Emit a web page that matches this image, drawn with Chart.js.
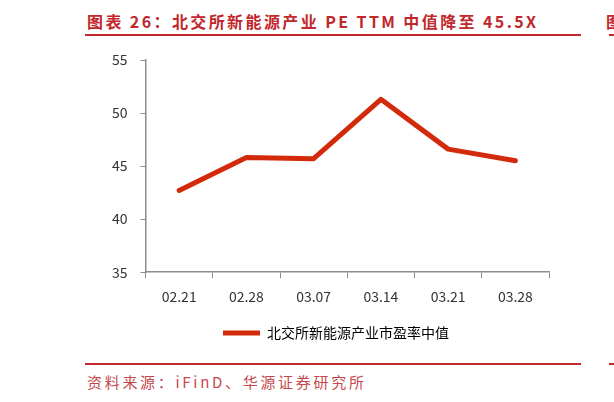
<!DOCTYPE html>
<html>
<head>
<meta charset="utf-8">
<script src="https://cdn.jsdelivr.net/npm/chart.js@4/dist/chart.umd.min.js"></script>
<style>
  html, body { margin: 0; padding: 0; background: #fff; }
  body { width: 614px; height: 402px; position: relative; overflow: hidden; }
  #chart { position: absolute; left: 0; top: 0; }
  .title {
    position: absolute; left: 87px; top: 9px;
    font-family: "Noto Sans CJK SC", sans-serif; font-weight: 700;
    font-size: 16px; letter-spacing: 2.4px; color: #c0282d; white-space: nowrap;
  }
  .rule { position: absolute; height: 2px; background: #c0282d; }
  .source {
    position: absolute; left: 87px; top: 371px;
    font-family: "Noto Sans CJK SC", sans-serif; font-size: 15px;
    letter-spacing: 2.7px; color: #c5484c; white-space: nowrap;
  }
  .edge { position: absolute; left: 606px; width: 8px; overflow: hidden; color: #c0282d;
    font-family: "Noto Sans CJK SC", sans-serif; font-weight: 700; font-size: 16px; }
</style>
</head>
<body>
<div class="title">图表 26：北交所新能源产业 PE TTM 中值降至 45.5X</div>
<div class="rule" style="left:85px; width:496px; top:34px;"></div>
<div class="rule" style="left:85px; width:496px; top:363px;"></div>
<div class="rule" style="left:609px; width:5px; top:34px;"></div>
<div class="rule" style="left:609px; width:5px; top:363px;"></div>
<div class="edge" style="top:9px;">图</div>
<div class="source">资料来源：iFinD、华源证券研究所</div>
<canvas id="chart" width="614" height="402"></canvas>
<script>
// 北交所新能源产业市盈率中值 (PE TTM)
const weeks = ['02.21', '02.28', '03.07', '03.14', '03.21', '03.28'];
const peMedian = [42.7, 45.8, 45.7, 51.3, 46.6, 45.5];
const yTicks = [35, 40, 45, 50, 55];
const seriesName = '北交所新能源产业市盈率中值';

const lineRed = '#d42a0c';
const axisGray = '#8c8c8c';
const tickFont = { family: '"Noto Sans CJK SC", sans-serif', size: 14 };

// nudge the legend so it sits where the original one was, a bit left of the plot centre
const legendShift = {
  id: 'legendShift',
  afterLayout(chart) {
    const lg = chart.legend;
    const dx = 336 - (lg.left + lg.right) / 2;
    lg.left += dx;
    lg.right += dx;
  },
};

const ctx = document.getElementById('chart').getContext('2d');
const chart = new Chart(ctx, {
  type: 'line',
  data: {
    labels: weeks,
    datasets: [{
      label: seriesName,
      data: peMedian,
      borderColor: lineRed,
      backgroundColor: lineRed,
      borderWidth: 5,
      pointRadius: 0,
      tension: 0,
      borderCapStyle: 'round',
      borderJoinStyle: 'round',
    }],
  },
  options: {
    responsive: false,
    animation: false,
    layout: { padding: { left: 99, right: 65, top: 60, bottom: 52 } },
    plugins: {
      tooltip: { enabled: false },
      legend: {
        position: 'bottom',
        labels: {
          color: '#222',
          font: { family: '"Noto Sans CJK SC", sans-serif', size: 14 },
          boxWidth: 37,
          boxHeight: 5,
          padding: 11,
          generateLabels: c => c.data.datasets.map((ds, i) => ({
            text: ds.label,
            fillStyle: ds.borderColor,
            strokeStyle: ds.borderColor,
            lineWidth: 0,
            datasetIndex: i,
          })),
        },
      },
    },
    scales: {
      x: {
        offset: true,
        grid: { display: true, drawOnChartArea: false, drawTicks: true, tickLength: 6, color: axisGray, offset: true },
        border: { color: axisGray, width: 1.5 },
        ticks: { color: '#333', font: tickFont, padding: 10, maxRotation: 0 },
      },
      y: {
        min: 35,
        max: 55,
        afterBuildTicks: scale => { scale.ticks = yTicks.map(v => ({ value: v })); },
        grid: { display: true, drawOnChartArea: false, drawTicks: true, tickLength: 5, color: axisGray },
        border: { color: axisGray, width: 1.5 },
        ticks: { color: '#333', font: tickFont, padding: 13 },
      },
    },
  },
  plugins: [legendShift],
});
</script>
</body>
</html>
